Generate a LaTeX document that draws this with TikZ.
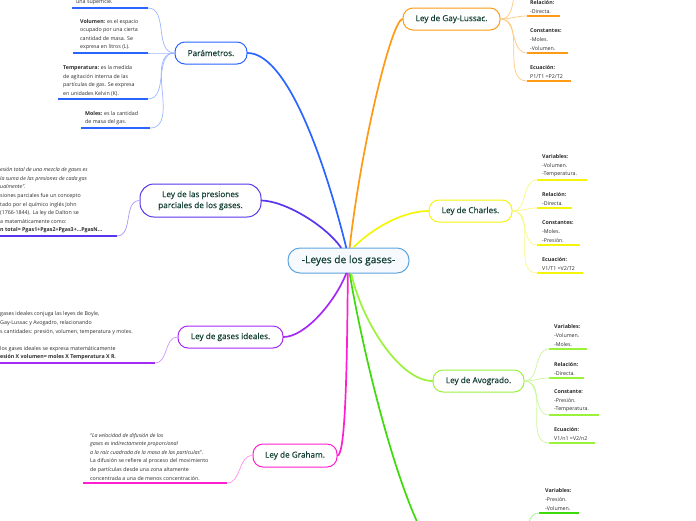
\documentclass[tikz,border=0pt]{standalone}
\usepackage{fontspec}
\setmainfont{Open Sans}
\newfontfamily\heavyfont{Open Sans}[FakeBold=0.6]
\newfontfamily\midfont{Open Sans}[FakeBold=0.3]
\usetikzlibrary{calc}
\definecolor{nodetext}{HTML}{123F33}
\definecolor{subtext}{HTML}{2A2A2A}
\definecolor{ccen}{HTML}{5EA3DB}
\definecolor{ccenf}{HTML}{F6FAFE}
\definecolor{cpar}{HTML}{2B65FF}
\definecolor{cparl}{HTML}{9DB6FF}
\definecolor{cpres}{HTML}{5A35EE}
\definecolor{cpresl}{HTML}{A996F7}
\definecolor{cgi}{HTML}{A52AF5}
\definecolor{cgil}{HTML}{CF95FA}
\definecolor{cgr}{HTML}{FF1FD0}
\definecolor{cgrl}{HTML}{FF8FE8}
\definecolor{cgl}{HTML}{FF9A14}
\definecolor{cgll}{HTML}{FFC97F}
\definecolor{cch}{HTML}{F5F50A}
\definecolor{cchl}{HTML}{F8F880}
\definecolor{cav}{HTML}{9BF23A}
\definecolor{cavl}{HTML}{C9F79A}
\definecolor{cbo}{HTML}{3EDB0C}
\definecolor{cbol}{HTML}{9EEC85}
\tikzset{
  mainnode/.style={draw, rounded corners=10pt, line width=1pt, fill=white, text=nodetext,
    font=\midfont\fontsize{8.2}{11}\selectfont, minimum height=22pt, inner sep=0pt, align=center},
  subtxt/.style={anchor=south west, inner xsep=0pt, inner ysep=2.6pt, align=left, text=subtext,
    font=\fontsize{5.3}{8.6}\selectfont},
  link/.style={line width=1.7pt, line cap=round},
  twig/.style={line width=0.7pt},
  uline/.style={line width=1.4pt},
}
\begin{document}
\begin{tikzpicture}[x=1pt,y=-1pt]
\useasboundingbox (0,0) rectangle (696,520);
\clip (0,0) rectangle (696,520);

% central node
\node[mainnode, draw=ccen, fill=ccenf, minimum width=121pt, minimum height=25pt, rounded corners=12pt,
  font=\heavyfont\fontsize{10.2}{12}\selectfont] (cen) at (348.5,260.5) {-Leyes de los gases-};

% main branch nodes
\node[mainnode, draw=cpar, minimum width=72pt] (par) at (211,53) {Parámetros.};
\node[mainnode, draw=cpres, minimum width=121pt, minimum height=33pt, rounded corners=14pt] (pres) at (200.5,200.5) {Ley de las presiones\\parciales de los gases.};
\node[mainnode, draw=cgi, minimum width=105pt] (gi) at (230.5,337) {Ley de gases ideales.};
\node[mainnode, draw=cgr, minimum width=84pt, minimum height=23pt] (gr) at (295,455.5) {Ley de Graham.};
\node[mainnode, draw=cgl, minimum width=97pt] (gl) at (451.5,19) {Ley de Gay-Lussac.};
\node[mainnode, draw=cch, minimum width=83pt] (ch) at (470.5,211) {Ley de Charles.};
\node[mainnode, draw=cav, minimum width=91pt] (av) at (478.5,381) {Ley de Avogrado.};
\coordinate (bo-w) at (442,560);
\coordinate (bo-e) at (515,552);

% main connectors
\draw[link, cpar] (cen.100) .. controls (322,150) and (285,53) .. (par.east);
\draw[link, cpres] (cen.120) .. controls (325,225) and (285,201) .. (pres.east);
\draw[link, cgl] (cen.85) .. controls (362,140) and (392,20) .. (gl.west);
\draw[link, cch] (cen.70) .. controls (375,226) and (405,211) .. (ch.west);
\draw[link, cgi] (cen.-100) .. controls (335,302) and (305,337) .. (gi.east);
\draw[link, cgr] (cen.-93) .. controls (347,380) and (345,455) .. (gr.east);
\draw[link, cav] (cen.-78) .. controls (362,322) and (400,381) .. (av.west);
\draw[link, cbo] (cen.-85) .. controls (366,370) and (408,535) .. (bo-w);

% ---------- Parametros items
\coordinate (ps-l) at (72,8);   \coordinate (ps-r) at (148,8);
\coordinate (vo-l) at (73,53);  \coordinate (vo-r) at (148,53);
\coordinate (te-l) at (58,99);  \coordinate (te-r) at (148,99);
\coordinate (mo-l) at (81,128); \coordinate (mo-r) at (150,128);
\node[subtxt] (ps) at ($(ps-l)+(4,0)$) {una superficie.};
\node[subtxt] (vo) at ($(vo-l)+(7,0)$) {\textbf{Volumen:} es el espacio\\ocupado por una cierta\\cantidad de masa. Se\\expresa en litros (L).};
\node[subtxt] (te) at ($(te-l)+(5,0)$) {\textbf{Temperatura:} es la medida\\de agitación interna de las\\partículas de gas. Se expresa\\en unidades Kelvin (K).};
\node[subtxt] (mo) at ($(mo-l)+(4,0)$) {\textbf{Moles:} es la cantidad\\de masa del gas.};
\foreach \n in {ps,vo,te,mo}{
  \draw[uline, cpar] (\n-l) -- (\n-r);
  \draw[twig, cparl] (par.west) to[out=180,in=0] (\n-r);
}

% ---------- Presiones parciales item
\coordinate (pp-l) at (-5,236); \coordinate (pp-r) at (117,236);
\node[subtxt] (pp) at (0,236) {\textit{esión total de una mezcla de gases es}\\\textit{la suma de las presiones de cada gas}\\\textit{ualmente”.}\\siones parciales fue un concepto\\tado por el químico inglés John\\(1766-1844). La ley de Dalton se\\a matemáticamente como:\\\textbf{n total= Pgas1+Pgas2+Pgas3+...PgasN...}};
\draw[uline, cpres] (pp-l) -- (pp-r);
\draw[twig, cpresl] (pres.west) to[out=180,in=0] (pp-r);

% ---------- Gases ideales item
\coordinate (gt-l) at (-5,363); \coordinate (gt-r) at (155,363);
\node[subtxt] (gt) at (0,363) {gases ideales conjuga las leyes de Boyle,\\Gay-Lussac y Avogadro, relacionando\\s cantidades: presión, volumen, temperatura y moles.\\[8.6pt]los gases ideales se expresa matemáticamente\\\textbf{esión X volumen= moles X Temperatura X R.}};
\draw[uline, cgi] (gt-l) -- (gt-r);
\draw[twig, cgil] (gi.west) to[out=180,in=0] (gt-r);

% ---------- Graham item
\coordinate (gd-l) at (83,483); \coordinate (gd-r) at (227,483);
\node[subtxt] (gd) at (90,483) {\textit{“La velocidad de difusión de los}\\\textit{gases es indirectamente proporcional}\\\textit{a la raíz cuadrada de la masa de las partículas}”.\\La difusión se refiere al proceso del movimiento\\de partículas desde una zona altamente\\concentrada a una de menos concentración.};
\draw[uline, cgr] (gd-l) -- (gd-r);
\draw[twig, cgrl] (gr.west) to[out=180,in=0] (gd-r);

% ---------- Gay-Lussac items
\coordinate (g0-l) at (527,-25);
\coordinate (g1-l) at (527,16); \coordinate (g1-r) at (560,16);
\coordinate (g2-l) at (527,53); \coordinate (g2-r) at (568,53);
\coordinate (g3-l) at (527,81); \coordinate (g3-r) at (571,81);
\node[subtxt] (g1) at ($(g1-l)+(3,0)$) {\textbf{Relación:}\\-Directa.};
\node[subtxt] (g2) at ($(g2-l)+(3,0)$) {\textbf{Constantes:}\\-Moles.\\-Volumen.};
\node[subtxt] (g3) at ($(g3-l)+(3,0)$) {\textbf{Ecuación:}\\P1/T1 =P2/T2};
\draw[twig, cgll] (gl.east) to[out=0,in=180] (g0-l);
\foreach \n in {g1,g2,g3}{
  \draw[uline, cgl] (\n-l) -- (\n-r);
  \draw[twig, cgll] (gl.east) to[out=0,in=180] (\n-l);
}

% ---------- Charles items
\coordinate (c1-l) at (537,180); \coordinate (c1-r) at (587,180);
\coordinate (c2-l) at (537,208); \coordinate (c2-r) at (572,208);
\coordinate (c3-l) at (537,245); \coordinate (c3-r) at (580,245);
\coordinate (c4-l) at (537,273); \coordinate (c4-r) at (583,273);
\node[subtxt] (c1) at ($(c1-l)+(5,0)$) {\textbf{Variables:}\\-Volumen.\\-Temperatura.};
\node[subtxt] (c2) at ($(c2-l)+(5,0)$) {\textbf{Relación:}\\-Directa.};
\node[subtxt] (c3) at ($(c3-l)+(5,0)$) {\textbf{Constantes:}\\-Moles.\\-Presión.};
\node[subtxt] (c4) at ($(c4-l)+(5,0)$) {\textbf{Ecuación:}\\V1/T1 =V2/T2};
\foreach \n in {c1,c2,c3,c4}{
  \draw[uline, cch] (\n-l) -- (\n-r);
  \draw[twig, cchl] (ch.east) to[out=0,in=180] (\n-l);
}

% ---------- Avogrado items
\coordinate (a1-l) at (549,349); \coordinate (a1-r) at (587,349);
\coordinate (a2-l) at (549,378); \coordinate (a2-r) at (584,378);
\coordinate (a3-l) at (549,415); \coordinate (a3-r) at (599,415);
\coordinate (a4-l) at (549,443); \coordinate (a4-r) at (595,443);
\node[subtxt] (a1) at ($(a1-l)+(5,0)$) {\textbf{Variables:}\\-Volumen.\\-Moles.};
\node[subtxt] (a2) at ($(a2-l)+(5,0)$) {\textbf{Relación:}\\-Directa.};
\node[subtxt] (a3) at ($(a3-l)+(5,0)$) {\textbf{Constante:}\\-Presión.\\-Temperatura.};
\node[subtxt] (a4) at ($(a4-l)+(5,0)$) {\textbf{Ecuación:}\\V1/n1 =V2/n2};
\foreach \n in {a1,a2,a3,a4}{
  \draw[uline, cav] (\n-l) -- (\n-r);
  \draw[twig, cavl] (av.east) to[out=0,in=180] (\n-l);
}

% ---------- bottom branch item
\coordinate (b1-l) at (539,513); \coordinate (b1-r) at (579,513);
\node[subtxt] (b1) at ($(b1-l)+(6,0)$) {\textbf{Variables:}\\-Presión.\\-Volumen.};
\draw[uline, cbo] (b1-l) -- (b1-r);
\draw[twig, cbol] (bo-e) to[out=0,in=180] (b1-l);
\end{tikzpicture}
\end{document}
